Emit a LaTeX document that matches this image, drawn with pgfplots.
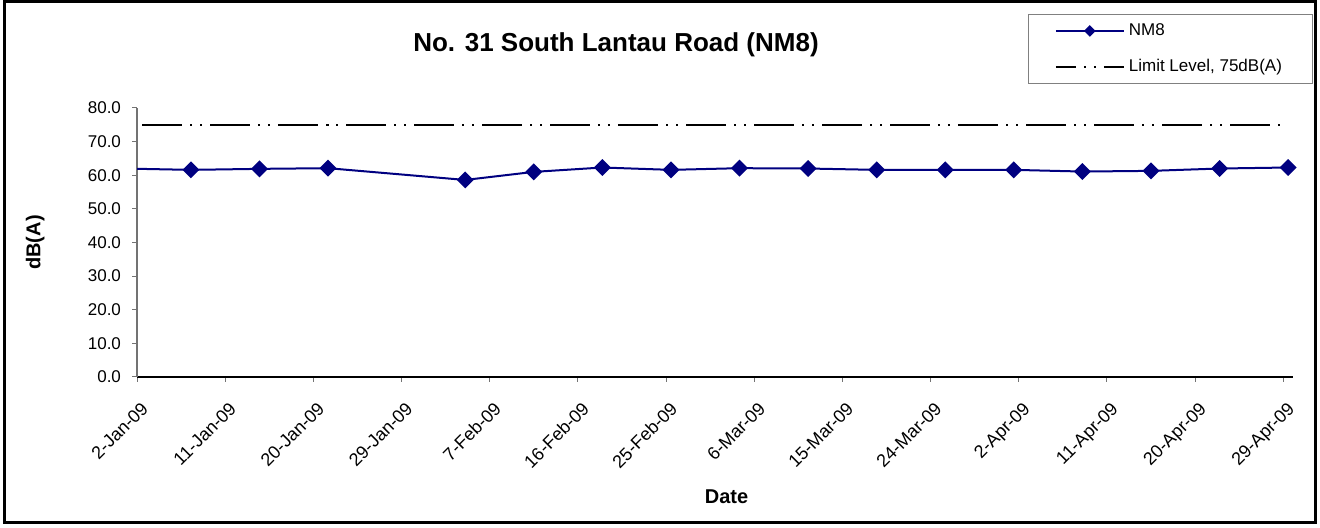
\documentclass[border=0pt]{standalone}
\usepackage{fontspec}
\setmainfont{Liberation Sans}
\usepackage{pgfplots}
\pgfplotsset{compat=1.18}
\definecolor{navyline}{RGB}{0,0,128}

\begin{document}
\begin{tikzpicture}
\useasboundingbox (0,0) rectangle (660pt,264pt);
% chart area frame
\draw[line width=1.5pt] (2.25pt,2.5pt) rectangle (657.5pt,263pt);
\node[anchor=base,font=\fontsize{13}{15}\selectfont\bfseries] at (308pt,238pt) {No. 31 South Lantau Road (NM8)};
\begin{axis}[
  at={(68.5pt,75.5pt)}, anchor=south west,
  width=578pt, height=134.5pt, scale only axis,
  xmin=0, xmax=118, ymin=0, ymax=80,
  axis x line*=bottom, axis y line*=left,
  x axis line style={black,line width=0.6pt,-},
  y axis line style={black!55,line width=0.6pt,-},
  tick align=outside, major tick length=2.5pt,
  tick style={black!55,line width=0.5pt},
  xtick={0,9,...,117},
  xticklabels={2-Jan-09,11-Jan-09,20-Jan-09,29-Jan-09,7-Feb-09,16-Feb-09,25-Feb-09,6-Mar-09,15-Mar-09,24-Mar-09,2-Apr-09,11-Apr-09,20-Apr-09,29-Apr-09},
  xticklabel style={rotate=45,anchor=north east,font=\fontsize{9}{10}\selectfont,xshift=-2.1pt,yshift=-4.4pt},
  ytick distance=10,
  yticklabel style={font=\fontsize{8.5}{10}\selectfont,xshift=-2pt},
  /pgf/number format/.cd, fixed, zerofill, precision=1, assume math mode=true,
  /pgfplots/.cd,
  ylabel={\bfseries dB(A)},
  ylabel style={at={(axis description cs:-0.088,0.5)},anchor=center,font=\fontsize{10}{12}\selectfont},
  xlabel={\bfseries Date},
  xlabel style={at={(axis description cs:0.51,-0.445)},anchor=center,font=\fontsize{10}{12}\selectfont},
  legend style={at={(axis description cs:0.771,1.349)},anchor=north west,
    draw=black!50,line width=0.4pt,fill=white,font=\fontsize{8.5}{10}\selectfont,
    inner xsep=13pt,inner ysep=2.5pt,row sep=6.5pt},
  legend cell align=left,
]
\addplot[navyline,line width=1pt,mark=square*,mark size=2.5pt,
  mark options={rotate=45,solid},mark indices={1,...,16},
  legend image code/.code={
    \draw[navyline,line width=1pt] (0pt,0pt) -- (34pt,0pt);
    \fill[navyline] (17pt,2.2pt) -- (19.2pt,0pt) -- (17pt,-2.2pt) -- (14.8pt,0pt) -- cycle;}]
coordinates {
(-1.5,62.0) (5.5,61.6) (12.5,61.9) (19.5,62.1) (33.5,58.6) (40.5,61.0)
(47.5,62.3) (54.5,61.6) (61.5,62.1) (68.5,62.0) (75.5,61.6) (82.5,61.6)
(89.5,61.6) (96.5,61.1) (103.5,61.3) (110.5,62.0) (117.5,62.3)
};
\addlegendentry{NM8}
\addplot[black,line width=1.1pt,
  dash pattern=on 1pt off 4pt on 1pt off 4pt on 20pt off 4pt,
  legend image code/.code={
    \draw[black,line width=1.1pt,dash pattern=on 10pt off 4pt on 1pt off 4pt on 1pt off 4pt on 10pt off 1pt] (0pt,0pt) -- (34pt,0pt);}]
coordinates {
(-1.5,75) (5.5,75) (12.5,75) (19.5,75) (33.5,75) (40.5,75)
(47.5,75) (54.5,75) (61.5,75) (68.5,75) (75.5,75) (82.5,75)
(89.5,75) (96.5,75) (103.5,75) (110.5,75) (117.5,75)
};
\addlegendentry{Limit Level, 75dB(A)}
\end{axis}
\end{tikzpicture}
\end{document}
